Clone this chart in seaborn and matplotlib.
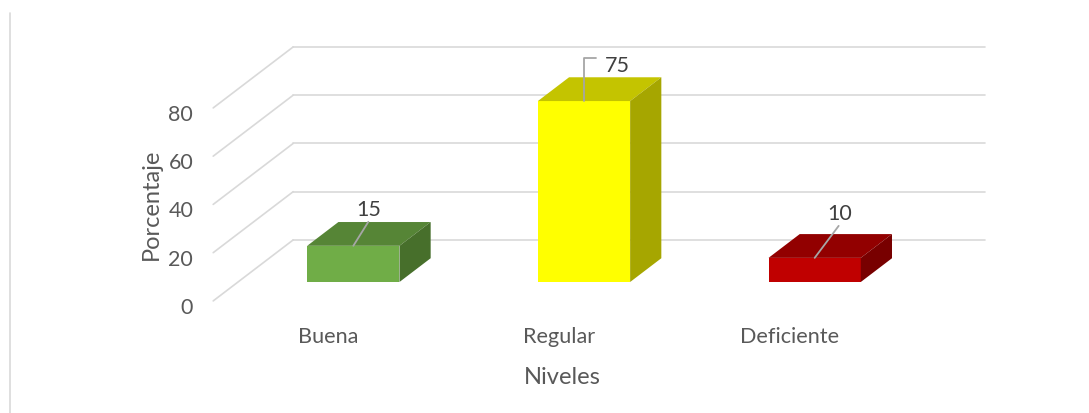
import matplotlib
matplotlib.use("Agg")
import matplotlib.pyplot as plt
import seaborn as sns
from matplotlib.patches import Polygon
from matplotlib.lines import Line2D
from matplotlib.transforms import offset_copy

# ---- data ----
categories = ["Buena", "Regular", "Deficiente"]
values = [15, 75, 10]
y_ticks = [0, 20, 40, 60, 80]
y_label = "Porcentaje"
x_label = "Niveles"

# ---- styling ----
front_colors = ["#70ad47", "#ffff00", "#c00000"]
top_colors = ["#568536", "#c4c400", "#920000"]
side_colors = ["#476f2b", "#a6a600", "#780000"]
grid_color = "#d9d9d9"
tick_color = "#595959"
value_color = "#404040"
leader_color = "#a6a6a6"

W, H, DPI = 1089, 414, 100

sns.set_theme(style="white")
plt.rcParams["font.family"] = ["Lato", "DejaVu Sans"]

fig = plt.figure(figsize=(W / DPI, H / DPI), dpi=DPI)
# the axes plane is the front face of the bars; walls sit in front of / behind it
ax = fig.add_axes([238 / W, 131 / H, 692 / W, 193 / H])

sns.barplot(x=categories, y=values, hue=categories, palette=front_colors,
            saturation=1, width=0.4, legend=False, ax=ax,
            edgecolor="none", linewidth=0, zorder=3)
ax.set_xlim(-0.5, len(categories) - 0.5)
ax.set_ylim(0, max(y_ticks))
ax.set_axis_off()

# pixels per data unit
sx = ax.bbox.width / len(categories)
sy = ax.bbox.height / max(y_ticks)


def depth(s):
    """Oblique offset (data units) for a depth fraction s of the floor."""
    return 80 * s / sx, 61 * s / sy


def px(dx, dy):
    return dx / sx, dy / sy


# depth of the wall front edge, the bar front (s = 0) and the back wall
s_front, s_back, s_bar = -0.31, 0.69, 0.39
fx, fy = depth(s_front)
bx, by = depth(s_back)

x_left, x_right = -0.5, len(categories) - 0.5
for v in y_ticks:
    ax.add_line(Line2D([x_left + fx, x_left + bx], [v + fy, v + by],
                       color=grid_color, lw=1.2, clip_on=False, zorder=1))
    ax.add_line(Line2D([x_left + bx, x_right + bx], [v + by, v + by],
                       color=grid_color, lw=1.2, clip_on=False, zorder=1))
    ax.text(x_left + fx, v + fy, str(v), ha="right", va="center",
            fontsize=15.5, color=tick_color,
            transform=offset_copy(ax.transData, fig=fig, x=-20, y=-6, units="dots"))

# top and side faces of each bar
ddx, ddy = depth(s_bar)
bars = ax.patches[:len(values)]
for bar, tc, sc in zip(bars, top_colors, side_colors):
    x0 = bar.get_x()
    x1 = x0 + bar.get_width()
    h = bar.get_height()
    ax.add_patch(Polygon([(x0, h), (x1, h), (x1 + ddx, h + ddy), (x0 + ddx, h + ddy)],
                         closed=True, facecolor=tc, edgecolor="none",
                         clip_on=False, zorder=3))
    ax.add_patch(Polygon([(x1, 0), (x1, h), (x1 + ddx, h + ddy), (x1 + ddx, ddy)],
                         closed=True, facecolor=sc, edgecolor="none",
                         clip_on=False, zorder=3))
    bar.set_clip_on(False)

# value labels with leader lines (offsets in pixels from the bar's top centre)
leaders = [[(0, 0), (15, 24)],
           [(0, 0), (0, 43), (12, 43)],
           [(0, 0), (24, 32)]]
label_offsets = [(15, 37), (33, 36), (25, 45)]
for bar, v, pts, (lx, ly) in zip(bars, values, leaders, label_offsets):
    xc = bar.get_x() + bar.get_width() / 2
    xs = [xc + px(dx, dy)[0] for dx, dy in pts]
    ys = [v + px(dx, dy)[1] for dx, dy in pts]
    ax.add_line(Line2D(xs, ys, color=leader_color, lw=1.3, clip_on=False, zorder=4))
    ox, oy = px(lx, ly)
    ax.text(xc + ox, v + oy, str(v), ha="center", va="center",
            fontsize=15.5, color=value_color, zorder=5)

# category labels under the front edge of the floor
for i, cat in enumerate(categories):
    ax.text(i + fx, fy, cat, ha="center", va="center", fontsize=15.6,
            color=tick_color,
            transform=offset_copy(ax.transData, fig=fig, x=0, y=-35, units="dots"))

# axis titles
fig.text(562 / W, 1 - 378 / H, x_label, ha="center", va="center",
         fontsize=17, color=tick_color)
fig.text(151 / W, 1 - 204 / H, y_label, ha="center", va="center",
         rotation=90, fontsize=17, color=tick_color)

# chart area border (left edge)
fig.add_artist(Line2D([10 / W, 10 / W], [0, 1 - 14 / H], color=grid_color,
                      lw=1.2, transform=fig.transFigure))

fig.savefig("out.png", dpi=DPI, facecolor="white")
